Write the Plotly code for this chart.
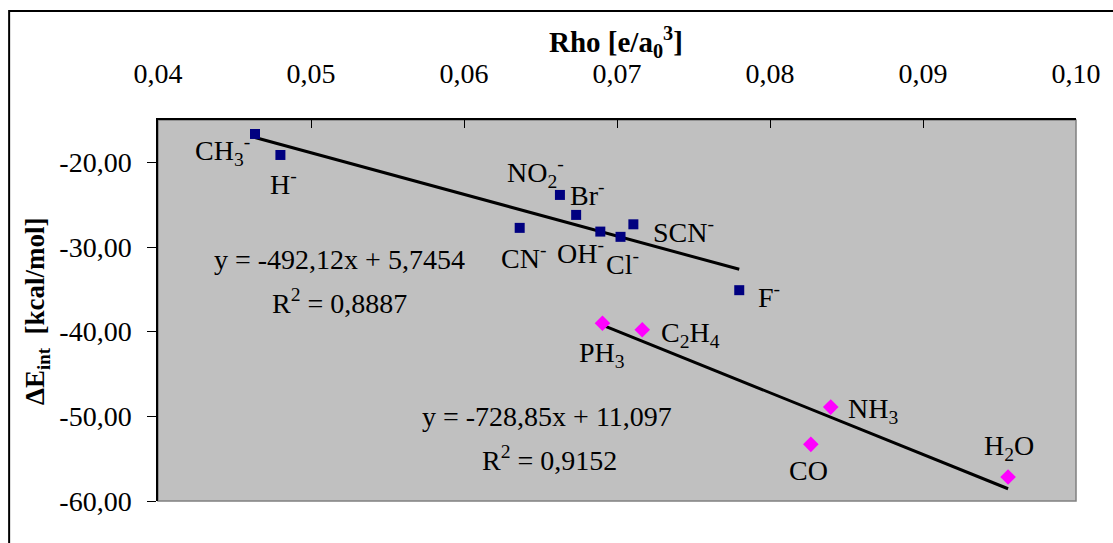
import plotly.graph_objects as go

# ---------------- data ----------------
anion_names = ["CH<sub>3</sub><sup>-</sup>", "H<sup>-</sup>", "NO<sub>2</sub><sup>-</sup>", "Br<sup>-</sup>",
               "CN<sup>-</sup>", "OH<sup>-</sup>", "Cl<sup>-</sup>", "SCN<sup>-</sup>", "F<sup>-</sup>"]
anion_rho = [0.04634, 0.04800, 0.06627, 0.06733, 0.06364, 0.06891, 0.07023, 0.07107, 0.07799]
anion_E = [-16.65, -19.13, -23.85, -26.21, -27.74, -28.18, -28.80, -27.32, -35.10]

neutral_names = ["PH<sub>3</sub>", "C<sub>2</sub>H<sub>4</sub>", "NH<sub>3</sub>", "CO", "H<sub>2</sub>O"]
neutral_rho = [0.06905, 0.07165, 0.08397, 0.08267, 0.09556]
neutral_E = [-39.00, -39.78, -48.91, -53.31, -57.17]

# trendline equations (as printed in the chart)
anion_slope, anion_intercept = -492.12, 5.7454
neutral_slope, neutral_intercept = -728.85, 11.097
anion_eq = "y = -492,12x + 5,7454"
anion_r2 = "R<sup>2</sup> = 0,8887"
neutral_eq = "y = -728,85x + 11,097"
neutral_r2 = "R<sup>2</sup> = 0,9152"

x_tick_vals = [0.04, 0.05, 0.06, 0.07, 0.08, 0.09, 0.10]
x_tick_text = ["0,04", "0,05", "0,06", "0,07", "0,08", "0,09", "0,10"]
y_tick_vals = [-60, -50, -40, -30, -20]
y_tick_text = ["-60,00", "-50,00", "-40,00", "-30,00", "-20,00"]

x_title = "<b>Rho [e/a<sub>0</sub><sup>3</sup>]</b>"
y_title = "<b>ΔE<sub>int</sub>  [kcal/mol]</b>"

# ---------------- label offsets (px) ----------------
anion_off = [(-33, 17), (3, 28), (-24, -22), (11, -21), (4, 29), (-20, 20), (2, 26), (50, 6), (30, 5)]
neutral_off = [(0, 31), (48, 5), (42, 3), (-2, 26), (1, -30)]

FONT = "Liberation Serif"
FS = 28

fig = go.Figure()

# trend lines
ax_line = [min(anion_rho), max(anion_rho)]
fig.add_trace(go.Scatter(x=ax_line, y=[anion_slope * v + anion_intercept for v in ax_line],
                         mode="lines", line=dict(color="black", width=3), hoverinfo="skip"))
nx_line = [min(neutral_rho), max(neutral_rho)]
fig.add_trace(go.Scatter(x=nx_line, y=[neutral_slope * v + neutral_intercept for v in nx_line],
                         mode="lines", line=dict(color="black", width=3), hoverinfo="skip"))

fig.add_trace(go.Scatter(x=anion_rho, y=anion_E, mode="markers",
                         marker=dict(symbol="square", size=10, color="#000080")))
fig.add_trace(go.Scatter(x=neutral_rho, y=neutral_E, mode="markers",
                         marker=dict(symbol="diamond", size=12, color="#FF00FF")))

annotations = []
for name, x, y, (dx, dy) in zip(anion_names, anion_rho, anion_E, anion_off):
    annotations.append(dict(x=x, y=y, xref="x", yref="y", text=name, showarrow=False,
                            xshift=dx, yshift=-dy, font=dict(family=FONT, size=FS, color="black")))
for name, x, y, (dx, dy) in zip(neutral_names, neutral_rho, neutral_E, neutral_off):
    annotations.append(dict(x=x, y=y, xref="x", yref="y", text=name, showarrow=False,
                            xshift=dx, yshift=-dy, font=dict(family=FONT, size=FS, color="black")))

# equations
L, T, W, H = 158, 120, 925, 381
def px(xp):
    return (xp - L) / W
def py(yp):
    return (T + H - yp) / H

for text, cx, cy in [(anion_eq, 341, 259), (anion_r2, 341, 301),
                     (neutral_eq, 550, 416), (neutral_r2, 552, 458)]:
    annotations.append(dict(x=px(cx), y=py(cy), xref="paper", yref="paper", text=text,
                            showarrow=False, xanchor="center", yanchor="middle",
                            font=dict(family=FONT, size=FS, color="black")))

# axis titles
annotations.append(dict(x=px(619), y=py(42), xref="paper", yref="paper", text=x_title,
                        showarrow=False, xanchor="center", yanchor="middle",
                        font=dict(family=FONT, size=29, color="black")))
annotations.append(dict(x=px(36), y=py(311), xref="paper", yref="paper", text=y_title,
                        showarrow=False, xanchor="center", yanchor="middle", textangle=-90,
                        font=dict(family=FONT, size=27, color="black")))

shapes = [
    # plot area border (gray)
    dict(type="rect", xref="paper", yref="paper", x0=0, x1=1, y0=0, y1=1,
         line=dict(color="#808080", width=1.5), layer="below"),
    # outer chart frame
    dict(type="rect", xref="paper", yref="paper", x0=px(8), x1=px(1125), y0=py(560), y1=py(11),
         line=dict(color="black", width=2), fillcolor="rgba(0,0,0,0)"),
]

fig.update_layout(
    width=1113, height=543,
    margin=dict(l=L, r=1113 - L - W, t=T, b=543 - T - H),
    paper_bgcolor="white", plot_bgcolor="#C0C0C0",
    showlegend=False,
    font=dict(family=FONT, size=FS, color="black"),
    annotations=annotations, shapes=shapes,
    xaxis=dict(side="top", range=[0.04, 0.10], tickvals=x_tick_vals, ticktext=x_tick_text,
               ticks="inside", ticklen=8, tickcolor="black", tickwidth=1,
               showline=True, linecolor="black", linewidth=1.5, showgrid=False, zeroline=False,
               ticklabelstandoff=24, tickfont=dict(family=FONT, size=FS, color="black")),
    yaxis=dict(range=[-60, -15], tickvals=y_tick_vals, ticktext=y_tick_text,
               ticks="outside", ticklen=9, tickcolor="black", tickwidth=1,
               showline=True, linecolor="black", linewidth=1.5, showgrid=False, zeroline=False,
               ticklabelstandoff=10, tickfont=dict(family=FONT, size=FS, color="black")),
)

fig.write_html("out.html")
